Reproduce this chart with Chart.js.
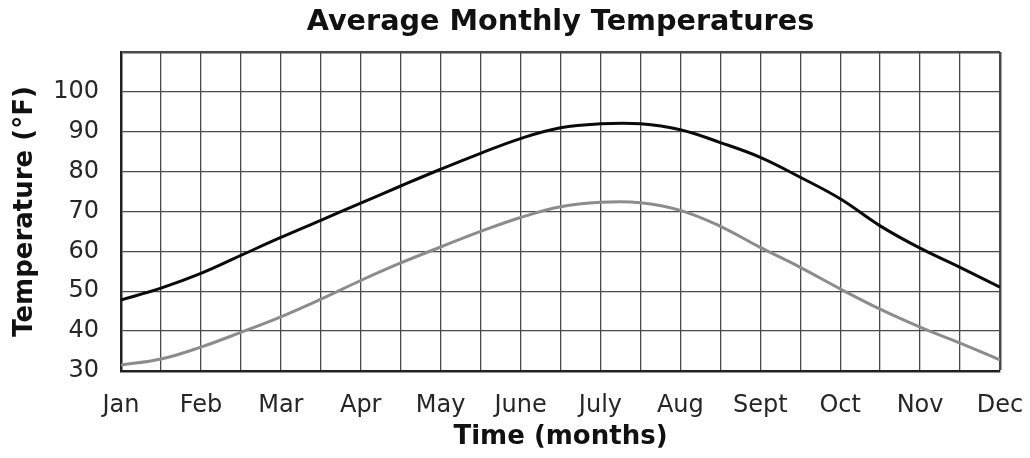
<!DOCTYPE html>
<html>
<head>
<meta charset="utf-8">
<script src="https://cdn.jsdelivr.net/npm/chart.js@4"></script>
<style>
  html, body { margin: 0; padding: 0; background: #fff; }
  #wrap { width: 1030px; height: 458px; }
</style>
</head>
<body>
<div id="wrap"><canvas id="tempChart" width="1030" height="458"></canvas></div>
<script>
// month labels at integer positions on the x axis
const MONTHS = ["Jan", "Feb", "Mar", "Apr", "May", "June", "July", "Aug", "Sept", "Oct", "Nov", "Dec"];

// readings taken every half month (0 = Jan ... 11 = Dec)
const POSITIONS = [0, 0.5, 1, 1.5, 2, 2.5, 3, 3.5, 4, 4.5, 5, 5.5, 6, 6.5, 7, 7.5, 8, 8.5, 9, 9.5, 10, 10.5, 11];
const HIGH_TEMPS = [47.8, 50.8, 54.5, 59, 63.5, 67.8, 72.1, 76.4, 80.6, 84.6, 88.3, 91, 92, 92, 90.5, 87.3, 83.6, 78.6, 73.2, 66.4, 60.8, 56, 51];
const LOW_TEMPS = [31.5, 33, 36, 39.7, 43.6, 48, 52.7, 57.1, 61.1, 65, 68.5, 71.2, 72.3, 72.2, 70.3, 66.3, 61, 56, 50.6, 45.5, 41, 37, 32.8];

const FONT = "'DejaVu Sans', Verdana, sans-serif";
const GRID = "#4a4a4a";

const toPoints = (vals) => vals.map((v, i) => ({ x: POSITIONS[i], y: v }));

const ctx = document.getElementById("tempChart").getContext("2d");
new Chart(ctx, {
  type: "line",
  data: {
    datasets: [
      {
        label: "High",
        data: toPoints(HIGH_TEMPS),
        borderColor: "#0a0a0a",
        borderWidth: 3,
        pointRadius: 0,
        tension: 0.4,
      },
      {
        label: "Low",
        data: toPoints(LOW_TEMPS),
        borderColor: "#8c8c8c",
        borderWidth: 3,
        pointRadius: 0,
        tension: 0.4,
      },
    ],
  },
  options: {
    responsive: false,
    animation: false,
    layout: { padding: { left: 0, right: 30, top: 0, bottom: 0 } },
    plugins: {
      legend: { display: false },
      tooltip: { enabled: false },
      title: {
        display: true,
        fullSize: false,
        text: "Average Monthly Temperatures",
        color: "#111",
        font: { family: FONT, size: 28.7, weight: "bold" },
        padding: { top: 5, bottom: 12.6 },
      },
    },
    scales: {
      x: {
        type: "linear",
        min: 0,
        max: 11,
        afterFit: (s) => { s.height = 87; s.paddingRight = 0; },
        ticks: {
          stepSize: 0.5,
          autoSkip: false,
          maxRotation: 0,
          padding: 20,
          color: "#262626",
          font: { family: FONT, size: 24 },
          callback: (v) => (Number.isInteger(v) ? MONTHS[v] : ""),
        },
        grid: {
          color: GRID,
          lineWidth: (c) => (c.tick && c.tick.value === 11 ? 2.5 : 1.3),
          drawTicks: false,
        },
        border: { color: "#222", width: 2.5 },
        title: {
          display: true,
          text: "Time (months)",
          color: "#111",
          font: { family: FONT, size: 26, weight: "bold" },
          padding: { top: 0, bottom: 5 },
        },
      },
      y: {
        min: 30,
        max: 110,
        afterFit: (s) => { s.width = 121; },
        ticks: {
          stepSize: 10,
          padding: 22,
          color: "#262626",
          font: { family: FONT, size: 24 },
          callback: (v) => (v === 110 ? "" : v),
        },
        grid: {
          color: GRID,
          lineWidth: (c) => (c.tick && c.tick.value === 110 ? 2.5 : 1.3),
          drawTicks: false,
        },
        border: { color: "#222", width: 2.5 },
        title: {
          display: true,
          text: "Temperature (°F)",
          color: "#111",
          font: { family: FONT, size: 26, weight: "bold" },
          padding: { top: 10, bottom: 0 },
        },
      },
    },
  },
});
</script>
</body>
</html>
